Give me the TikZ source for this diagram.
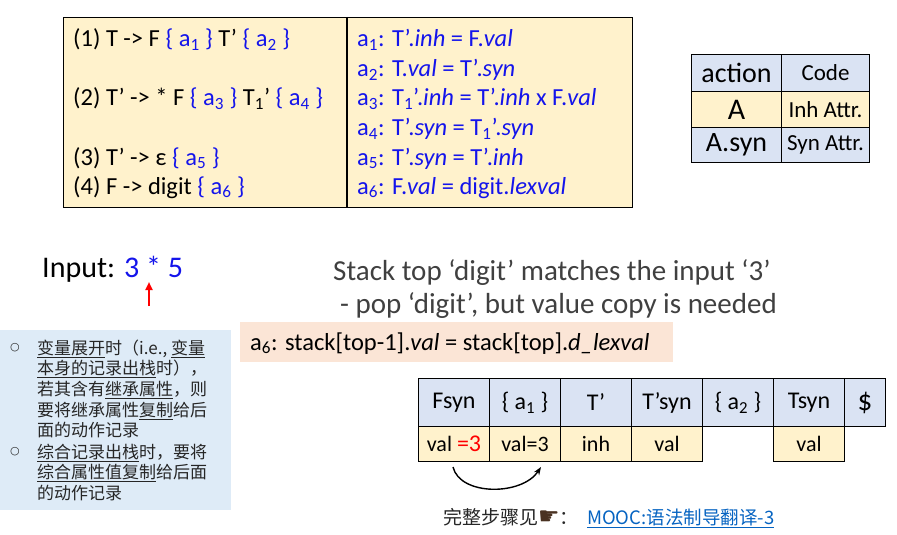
\documentclass[tikz,border=0pt]{standalone}
\usepackage{fontspec}
\setmainfont{Carlito}
\newfontfamily\cjk{Noto Sans CJK SC}
\newfontfamily\dejavu{DejaVu Sans}
\usetikzlibrary{arrows.meta}
\definecolor{myblue}{RGB}{20,20,235}
\definecolor{tyellow}{HTML}{FFF2CC}
\definecolor{tblue}{HTML}{DAE3F3}
\definecolor{peach}{HTML}{FBE5D6}
\definecolor{cnblue}{HTML}{DEEBF7}
\definecolor{graytxt}{HTML}{404040}
\definecolor{linkblue}{HTML}{0563C1}
\definecolor{handbrown}{HTML}{4A3222}
\begin{document}
\begin{tikzpicture}[x=1pt,y=-1pt,
  txt/.style={anchor=base west,inner sep=0pt},
  rule/.style={font=\fontsize{24.5}{29}\selectfont,txt},
  cell/.style={draw=black,line width=1pt,anchor=north west,inner sep=0pt,align=center},
  topcell/.style={cell,fill=tblue,minimum height=48pt,font=\fontsize{24}{29}\selectfont},
  botcell/.style={cell,fill=tyellow,minimum height=35pt,font=\fontsize{22}{26}\selectfont},
  cnline/.style={txt,font=\cjk\fontsize{17}{20}\selectfont,text=black!85},
  bul/.style={anchor=center,inner sep=0pt,font=\dejavu\fontsize{11}{13}\selectfont,text=black!85}
]
\useasboundingbox (0,0) rectangle (897,535);

% ---------- grammar table ----------
\node[draw=black,line width=1.2pt,fill=tyellow,anchor=north west,minimum width=569pt,minimum height=190pt,inner sep=0pt] (gt) at (63,17) {};
\coordinate (divT) at (347,17);
\coordinate (divB) at (347,207);
\draw[line width=1.2pt] (divT) -- (divB);

\node[rule] (r1) at (73,47) {(1) T -> F {\color{myblue}\{ a\textsubscript{1} \}} T’ {\color{myblue}\{ a\textsubscript{2} \}}};
\node[rule] (r2) at (73,106) {(2) T’ -> * F {\color{myblue}\{ a\textsubscript{3} \}} T\textsubscript{1}’ {\color{myblue}\{ a\textsubscript{4} \}}};
\node[rule] (r3) at (73,165) {(3) T’ -> ε {\color{myblue}\{ a\textsubscript{5} \}}};
\node[rule] (r4) at (73,194) {(4) F -> digit {\color{myblue}\{ a\textsubscript{6} \}}};

\begin{scope}[every node/.style={rule,text=myblue}]
\node (s1) at (357,47) {a\textsubscript{1}: T’.\textit{inh} = F.\textit{val}};
\node (s2) at (357,76.5) {a\textsubscript{2}: T.\textit{val} = T’.\textit{syn}};
\node (s3) at (357,106) {a\textsubscript{3}: T\textsubscript{1}’.\textit{inh} = T’.\textit{inh} x F.\textit{val}};
\node (s4) at (357,135.5) {a\textsubscript{4}: T’.\textit{syn} = T\textsubscript{1}’.\textit{syn}};
\node (s5) at (357,165) {a\textsubscript{5}: T’.\textit{syn} = T’.\textit{inh}};
\node (s6) at (357,194) {a\textsubscript{6}: F.\textit{val} = digit.\textit{lexval}};
\end{scope}

% ---------- legend table ----------
\node[cell,fill=tblue,minimum width=90pt,minimum height=37pt,font=\fontsize{28}{32}\selectfont] (l11) at (691,54) {action};
\node[cell,fill=tblue,minimum width=88pt,minimum height=37pt,font=\fontsize{23}{27}\selectfont] (l12) at (781,54) {Code};
\node[cell,fill=tyellow,minimum width=90pt,minimum height=36pt,font=\fontsize{30}{34}\selectfont] (l21) at (691,91) {A};
\node[cell,fill=tyellow,minimum width=88pt,minimum height=36pt,font=\fontsize{23}{27}\selectfont] (l22) at (781,91) {Inh Attr.};
\node[cell,fill=tblue,minimum width=90pt,minimum height=35pt,font=\fontsize{28}{32}\selectfont] (l31) at (691,127) {A.syn};
\node[cell,fill=tblue,minimum width=88pt,minimum height=35pt,font=\fontsize{23}{27}\selectfont] (l32) at (781,127) {Syn Attr.};

% ---------- input ----------
\node[txt,font=\fontsize{30}{34}\selectfont] (inp) at (42,277) {Input: {\color{myblue}3 * 5}};
\coordinate (arrB) at (149,306);
\coordinate (arrT) at (149,282);
\draw[red,line width=2pt,-{Triangle[length=8pt,width=7pt]}] (arrB) -- (arrT);

% ---------- stack explanation ----------
\node[txt,font=\fontsize{29}{33}\selectfont,text=graytxt] (st1) at (333,280) {Stack top ‘digit’ matches the input ‘3’};
\node[txt,font=\fontsize{29}{33}\selectfont,text=graytxt] (st2) at (340,313) {- pop ‘digit’, but value copy is needed};

\node[fill=peach,anchor=north west,minimum width=433pt,minimum height=40pt,inner sep=0pt] (a6box) at (240,322) {};
\node[rule] (a6txt) at (250,350) {a\textsubscript{6}: stack[top-1].\textit{val} = stack[top].\textit{d\_lexval}};

% ---------- chinese note ----------
\node[fill=cnblue,anchor=north west,minimum width=231pt,minimum height=180pt,inner sep=0pt] (cnbox) at (0,330) {};
\node[bul] (b1) at (15,348) {○};
\node[bul] (b2) at (15,452) {○};
\node[cnline] (c1) at (37,354) {\underline{变量展开}时（i.e., \underline{变量}};
\node[cnline] (c2) at (37,374.7) {\underline{本身的记录出栈}时），};
\node[cnline] (c3) at (37,395.4) {若其含有\underline{继承属性}，则};
\node[cnline] (c4) at (37,416.1) {要将继承属性\underline{复制}给后};
\node[cnline] (c5) at (37,436.8) {面的动作记录};
\node[cnline] (c6) at (37,458) {\underline{综合记录出栈}时，要将};
\node[cnline] (c7) at (37,478.7) {\underline{综合属性值}\underline{复制}给后面};
\node[cnline] (c8) at (37,499.4) {的动作记录};

% ---------- stack table ----------
\node[topcell,minimum width=71pt] (t1) at (418,378) {Fsyn};
\node[topcell,minimum width=71pt] (t2) at (489,378) {\{ a\textsubscript{1} \}};
\node[topcell,minimum width=71pt] (t3) at (560,378) {T’};
\node[topcell,minimum width=71pt] (t4) at (631,378) {T’syn};
\node[topcell,minimum width=71pt] (t5) at (702,378) {\{ a\textsubscript{2} \}};
\node[topcell,minimum width=71pt] (t6) at (773,378) {Tsyn};
\node[topcell,minimum width=41pt,font=\fontsize{29}{32}\selectfont] (t7) at (844,378) {\$};

\node[botcell,minimum width=71pt] (u1) at (418,426) {val {\color{red}\fontsize{24}{26}\selectfont=3}};
\node[botcell,minimum width=71pt] (u2) at (489,426) {val=3};
\node[botcell,minimum width=71pt] (u3) at (560,426) {inh};
\node[botcell,minimum width=71pt] (u4) at (631,426) {val};
\node[botcell,minimum width=71pt] (u6) at (773,426) {val};

\coordinate (cs) at (453,467);
\coordinate (ce) at (541,467);
\draw[line width=1.4pt,-{Stealth[length=8pt,width=6pt]}] (cs) .. controls (460,496) and (522,496) .. (ce);

% ---------- footer ----------
\node[txt,font=\cjk\fontsize{19}{22}\selectfont,text=black!85] (ft) at (443,524) {完整步骤见{\dejavu\fontsize{24}{24}\selectfont\color{handbrown}☛}：};
\node[txt,font=\cjk\fontsize{18.5}{22}\selectfont,text=linkblue] (lnk) at (587,524) {\underline{MOOC:语法制导翻译-3}};
\end{tikzpicture}
\end{document}
